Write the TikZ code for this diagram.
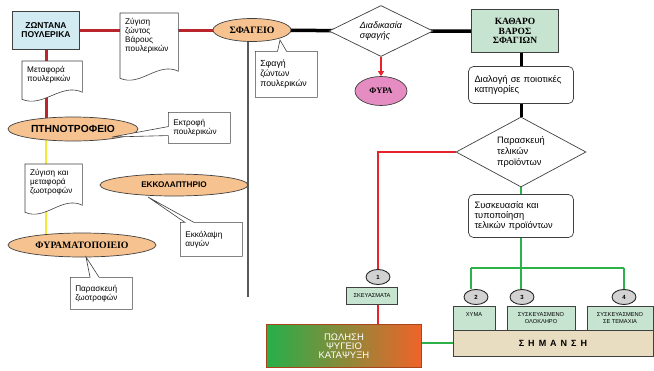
\documentclass[tikz,border=0pt]{standalone}
\usepackage{fontspec}
\setmainfont{Liberation Sans}
\newfontfamily\serifgr{Liberation Serif}
\usetikzlibrary{arrows.meta,positioning,calc,shapes.geometric,shapes.callouts}

\definecolor{skyfill}{HTML}{D2EAF1}
\definecolor{peach}{HTML}{F6C28F}
\definecolor{mint}{HTML}{C7E4D1}
\definecolor{pinkfill}{HTML}{E58DC2}
\definecolor{beige}{HTML}{E9DDC1}
\definecolor{wine}{HTML}{B8252D}
\definecolor{brightred}{HTML}{E8232A}
\definecolor{lemon}{HTML}{F2EA3A}
\definecolor{leaf}{HTML}{2DB24A}
\definecolor{salesgreen}{HTML}{25B04A}
\definecolor{salesmid}{HTML}{F4B025}
\definecolor{salesorange}{HTML}{F0632A}

\pgfdeclarelayer{background}
\pgfdeclarelayer{lines}
\pgfsetlayers{lines,background,main}

\tikzset{
  lbl/.style={font=\fontsize{8.2}{9}\selectfont,align=left},
  biglbl/.style={font=\fontsize{9.3}{10.8}\selectfont,align=left},
  docnote/.style={lbl,anchor=north west,inner xsep=5pt,inner ysep=5pt},
  docline/.style={draw=black!75,fill=white,line width=0.6pt},
  note/.style={lbl,rectangle callout,draw=black!75,fill=white,line width=0.6pt,
    callout pointer width=9pt,anchor=north west,inner xsep=5pt,inner ysep=4pt},
  site/.style={ellipse,draw=black!75,fill=peach,line width=0.7pt,inner sep=0pt,
    font=\bfseries\fontsize{8.5}{10}\selectfont},
  serifsite/.style={site,font=\serifgr\bfseries\fontsize{9.8}{10}\selectfont},
  unit/.style={rectangle,draw=black!75,line width=0.7pt,align=center,inner sep=2pt,
    font=\bfseries\fontsize{8.5}{9.5}\selectfont},
  stepbox/.style={biglbl,rectangle,rounded corners=5pt,draw=black!75,fill=white,
    line width=0.7pt,inner xsep=6pt},
  decision/.style={biglbl,diamond,draw=black!75,fill=white,line width=0.7pt,inner sep=0pt},
  badge/.style={ellipse,draw=black!85,fill=gray!35,line width=0.9pt,minimum width=24,
    minimum height=15,inner sep=0pt,font=\bfseries\fontsize{6}{6}\selectfont},
  tag/.style={rectangle,draw=black!75,fill=mint,line width=0.6pt,inner sep=1pt,
    align=center,font=\fontsize{5.7}{6.7}\selectfont},
  redline/.style={wine,line width=3pt},
  alarmline/.style={brightred,line width=2pt},
  feedline/.style={lemon,line width=2.5pt},
  blackline/.style={black,line width=3.5pt},
  greenline/.style={leaf,line width=2.2pt},
}

% document outline with a wavy foot, drawn under the node text
\newcommand{\docwave}[2]{%
  \begin{pgfonlayer}{background}
    \path[docline] (#1.north west) -- (#1.north east)
      -- ($(#1.south east)+(0,#2-4)$)
      .. controls ($(#1.south east)!0.35!(#1.south west)+(0,#2-14)$)
      and ($(#1.south east)!0.65!(#1.south west)+(0,#2+12)$)
      .. ($(#1.south west)+(0,#2+3)$) -- cycle;
  \end{pgfonlayer}}

\begin{document}
\begin{tikzpicture}[x=1pt,y=-1pt,>=Latex]
  \useasboundingbox (0,0) rectangle (654,370);

  % left column: from farm to slaughterhouse
  \node[unit,fill=skyfill,minimum width=67,minimum height=38] (live) at (46,30) {ΖΩΝΤΑΝΑ\\ΠΟΥΛΕΡΙΚΑ};
  \node[docnote,text width=48] (weighlive) at (120,13) {Ζύγιση\\ζώντος\\Βάρους\\πουλερικών};
  \docwave{weighlive}{17}
  \node[docnote,text width=50] (carry) at (22,61) {Μεταφορά\\πουλερικών};
  \docwave{carry}{8}
  \node[site,font=\bfseries\fontsize{10.3}{11}\selectfont,minimum width=130,minimum height=24] (farm) at (73,129) {ΠΤΗΝΟΤΡΟΦΕΙΟ};
  \node[note,text width=52,minimum height=31,callout absolute pointer={(112,137)}] (rearing) at (168,112) {Εκτροφή\\πουλερικών};
  \node[docnote,text width=47] (feedcarry) at (25,164) {Ζύγιση και\\μεταφορά\\ζωοτροφών};
  \docwave{feedcarry}{9}
  \node[site,font=\bfseries\fontsize{8.2}{9}\selectfont,minimum width=148,minimum height=22] (hatchery) at (174,185) {ΕΚΚΟΛΑΠΤΗΡΙΟ};
  \node[note,text width=52,minimum height=34,callout absolute pointer={(148,197)}] (hatching) at (180,222) {Εκκόλαψη\\αυγών};
  \node[serifsite,minimum width=148,minimum height=24] (feedmill) at (82,245) {ΦΥΡΑΜΑΤΟΠΟΙΕΙΟ};
  \node[note,text width=52,minimum height=32,callout absolute pointer={(86,257)}] (feedprep) at (70,277) {Παρασκευή\\ζωοτροφών};

  % slaughter line
  \coordinate (spinefoot) at (248,297);
  \node[serifsite,minimum width=78,minimum height=23] (slaughter) at (252,30) {ΣΦΑΓΕΙΟ};
  \node[note,font=\fontsize{8.8}{10}\selectfont,text width=52,minimum height=46,callout absolute pointer={(280,40)}] (killing) at (255,51) {Σφαγή\\ζώντων\\πουλερικών};
  \node[decision,font=\itshape\fontsize{9}{10}\selectfont,aspect=2,minimum width=104,minimum height=51] (killproc) at (381,31) {Διαδικασία\\σφαγής};
  \node[ellipse,draw=black!75,fill=pinkfill,line width=0.7pt,minimum width=52,minimum height=29,
    inner sep=0pt,font=\serifgr\bfseries\fontsize{8.5}{9}\selectfont] (loss) at (381,91) {ΦΥΡΑ};
  \node[unit,fill=mint,minimum width=87,minimum height=43,font=\serifgr\bfseries\fontsize{9.5}{9.3}\selectfont] (net) at (515,31) {ΚΑΘΑΡΟ\\ΒΑΡΟΣ\\ΣΦΑΓΙΩΝ};
  \node[stepbox,text width=93,minimum height=37] (sorting) at (521,85) {Διαλογή σε ποιοτικές\\κατηγορίες};
  \node[decision,aspect=1.8,minimum width=130,minimum height=70] (prepare) at (521,152) {Παρασκευή\\τελικών\\προϊόντων};
  \node[stepbox,font=\fontsize{9.3}{10.3}\selectfont,text width=93,minimum height=43] (packing) at (521,216) {Συσκευασία και\\τυποποίηση\\τελικών προϊόντων};

  % products
  \coordinate (fork2) at (471,268);
  \coordinate (fork4) at (624,268);
  \node[badge] (b1) at (378,277) {1};
  \node[tag,minimum width=51,minimum height=17] (residue) at (372,296) {ΣΚΕΥΑΣΜΑΤΑ};
  \node[rectangle,draw=salesorange!70!black,line width=0.6pt,left color=salesgreen,
    middle color=salesmid,right color=salesorange,text=white,align=center,
    font=\fontsize{9.5}{9.3}\selectfont,minimum width=155,minimum height=43] (sales) at (344,346) {ΠΩΛΗΣΗ\\ΨΥΓΕΙΟ\\ΚΑΤΑΨΥΞΗ};
  \node[rectangle,draw=black!75,fill=beige,line width=0.7pt,minimum width=200,minimum height=26,
    font=\bfseries\fontsize{9}{9}\selectfont] (marking) at (553,343) {Σ\, Η\, Μ\, Α\, Ν\, Σ\, Η};
  \node[tag,minimum width=42,minimum height=24] (bulk) at (474,318) {ΧΥΜΑ\\\mbox{}};
  \node[tag,minimum width=68,minimum height=24] (whole) at (541,318) {ΣΥΣΚΕΥΑΣΜΕΝΟ\\ΟΛΟΚΛΗΡΟ};
  \node[tag,minimum width=66,minimum height=24] (pieces) at (620,318) {ΣΥΣΚΕΥΑΣΜΕΝΟ\\ΣΕ ΤΕΜΑΧΙΑ};
  \node[badge] (b2) at (476,297) {2};
  \node[badge] (b3) at (522,297) {3};
  \node[badge] (b4) at (624,297) {4};

  \begin{pgfonlayer}{lines}
    \draw[redline] (live.east |- slaughter.west) -- (slaughter.west);
    \draw[redline] (live.south) -- (live.south |- farm.center);
    \draw[feedline] (live.south |- farm.center) -- (live.south |- feedmill.center);
    \draw[black!65,line width=1.6pt] (spinefoot |- slaughter.center) -- (spinefoot);
    \draw[blackline] (slaughter.center) -- (killproc.center) -- (net.center);
    \draw[alarmline,-{Triangle[length=5pt,width=6pt]}] (killproc.south) -- (loss.north);
    \draw[black,line width=3pt] (prepare.north |- net.south) -- (prepare.north);
    \draw[alarmline] (prepare.west) -| (b1.north);
    \draw[alarmline] (residue.south -| b1) -- (sales.north -| b1);
    \draw[greenline] (prepare.south) -- (packing.north);
    \draw[greenline] (packing.south) -- (packing.south |- b3.north);
    \draw[greenline] (fork2) -- (fork4);
    \draw[greenline] (fork2) -- (fork2 |- b2.north);
    \draw[greenline] (fork4) -- (b4.north);
    \draw[greenline] (sales.east |- marking.west) -- (marking.west);
  \end{pgfonlayer}
\end{tikzpicture}
\end{document}
